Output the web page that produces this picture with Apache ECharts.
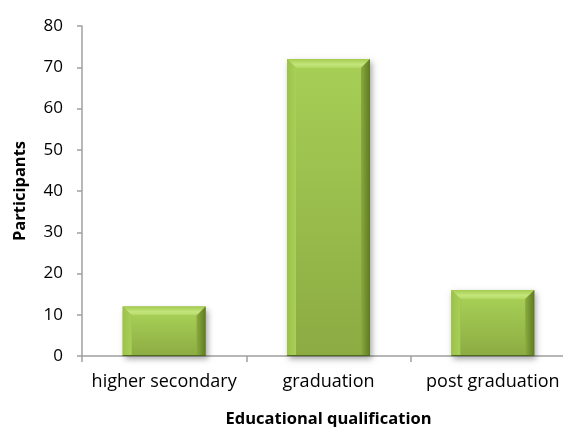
<!DOCTYPE html>
<html>
<head>
<meta charset="utf-8">
<script src="https://cdn.jsdelivr.net/npm/echarts@6/dist/echarts.min.js"></script>
<style>
  html, body { margin: 0; padding: 0; background: #fff; overflow: hidden; }
  #chart { width: 563px; height: 427px; }
</style>
</head>
<body>
<div id="chart"></div>
<script>
// Participants by educational qualification
const categories = ['higher secondary', 'graduation', 'post graduation'];
const participants = [12, 72, 16];
const yTicks = [0, 10, 20, 30, 40, 50, 60, 70, 80];

const FONT = '"Open Sans", "Liberation Sans", sans-serif';

// Bevelled bar: body with gradient, light top bevel, shaded side bevels, soft shadow
function renderBevelBar(params, api) {
  const idx = api.value(0);
  const val = api.value(1);
  const top = api.coord([idx, val]);
  const base = api.coord([idx, 0]);
  const band = api.size([1, 0])[0];
  const w = band * 0.505;
  const x0 = top[0] - w / 2, x1 = top[0] + w / 2;
  const y0 = top[1], y1 = base[1];
  const h = y1 - y0;
  const b = Math.min(9, h / 3);
  return {
    type: 'group',
    children: [
      { type: 'rect', shape: { x: x0, y: y0, width: w, height: h },
        style: { fill: '#8faf45', shadowBlur: 6, shadowOffsetX: 2, shadowOffsetY: 3, shadowColor: 'rgba(0,0,0,0.35)' } },
      // front face
      { type: 'rect', shape: { x: x0 + b, y: y0 + b, width: w - 2 * b, height: h - b },
        style: { fill: new echarts.graphic.LinearGradient(0, 0, 0, 1, [
          { offset: 0, color: '#a6ce55' }, { offset: 1, color: '#8cab43' }]) } },
      // top bevel
      { type: 'polygon', shape: { points: [[x0, y0], [x1, y0], [x1 - b, y0 + b], [x0 + b, y0 + b]] },
        style: { fill: new echarts.graphic.LinearGradient(0, 0, 0, 1, [
          { offset: 0, color: '#a4cc4e' }, { offset: 0.6, color: '#c4e57c' }, { offset: 1, color: '#b2d863' }]) } },
      // left bevel
      { type: 'polygon', shape: { points: [[x0, y0], [x0 + b, y0 + b], [x0 + b, y1], [x0, y1]] },
        style: { fill: new echarts.graphic.LinearGradient(0, 0, 1, 0, [
          { offset: 0, color: '#9cc24a' }, { offset: 1, color: '#a8cf57' }]) } },
      // right bevel
      { type: 'polygon', shape: { points: [[x1, y0], [x1 - b, y0 + b], [x1 - b, y1], [x1, y1]] },
        style: { fill: new echarts.graphic.LinearGradient(0, 0, 1, 0, [
          { offset: 0, color: '#8aab3e' }, { offset: 1, color: '#5e7a22' }]) } },
      // dark outline on the bottom edge
      { type: 'line', shape: { x1: x0, y1: y1 - 0.5, x2: x1, y2: y1 - 0.5 },
        style: { stroke: '#4f6a1d', lineWidth: 1 } }
    ]
  };
}

const chart = echarts.init(document.getElementById('chart'), null, { renderer: 'canvas' });
chart.setOption({
  animation: false,
  backgroundColor: '#ffffff',
  grid: { left: 82, right: -12, top: 26, bottom: 71, containLabel: false, outerBoundsMode: 'none' },
  xAxis: {
    type: 'category',
    data: categories,
    name: 'Educational qualification',
    nameLocation: 'middle',
    nameGap: 55,
    nameTextStyle: { fontFamily: FONT, fontSize: 16.5, fontWeight: 'bold', color: '#000' },
    axisLine: { lineStyle: { color: '#a0a0a0', width: 1.5 } },
    axisTick: { show: true, alignWithLabel: false, length: 6, lineStyle: { color: '#a0a0a0', width: 1.5 } },
    axisLabel: { interval: 0, hideOverlap: false, fontFamily: FONT, fontSize: 18, color: '#000', margin: 17 },
    splitLine: { show: false }
  },
  yAxis: {
    type: 'value',
    min: yTicks[0],
    max: yTicks[yTicks.length - 1],
    interval: 10,
    name: 'Participants',
    nameLocation: 'middle',
    nameGap: 53,
    nameRotate: 90,
    nameTextStyle: { fontFamily: FONT, fontSize: 16.5, fontWeight: 'bold', color: '#000' },
    axisLine: { show: true, lineStyle: { color: '#a0a0a0', width: 1.5 } },
    axisTick: { show: true, length: 5, lineStyle: { color: '#a0a0a0', width: 1.5 } },
    axisLabel: { fontFamily: FONT, fontSize: 17, color: '#000', margin: 19 },
    splitLine: { show: false }
  },
  series: [{
    type: 'custom',
    renderItem: renderBevelBar,
    encode: { x: 0, y: 1 },
    data: participants.map((v, i) => [i, v])
  }]
});
</script>
</body>
</html>
